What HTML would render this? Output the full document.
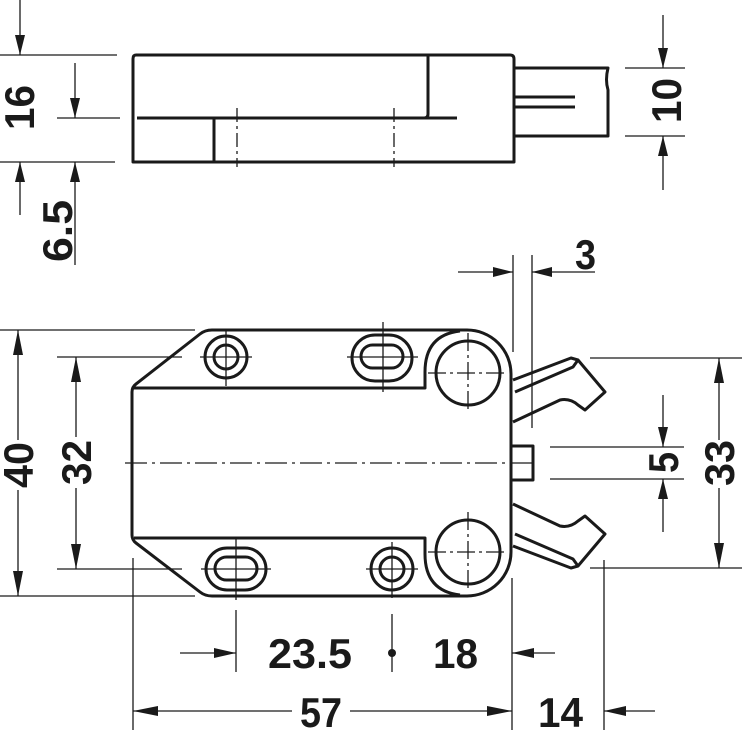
<!DOCTYPE html>
<html><head><meta charset="utf-8"><style>html,body{margin:0;padding:0;background:#fff}svg{display:block}</style></head><body>
<svg width="744" height="730" viewBox="0 0 744 730" xmlns="http://www.w3.org/2000/svg">
<g fill="none" stroke="#1a1a1a" stroke-width="3" stroke-linejoin="round">
<path d="M136,55 H510 Q514,55 514,59 V162 H133 V59 Q133,55 136,55 Z"/>
<path d="M137,118 H457"/>
<path d="M428,56 V114 Q428,118 424,118"/>
<path d="M214,118 V162"/>
<path d="M514,68 H608 Q605,80 608,90 V136 H514"/>
<path d="M514,97 H575 M514,107 H575"/>
</g>
<g stroke="#1a1a1a" stroke-width="1.3" stroke-dasharray="14,4,3,4">
<path d="M237,108 V167 M394,108 V167"/>
</g>
<g fill="none" stroke="#1a1a1a" stroke-width="3" stroke-linejoin="round">
<path d="M212,330 H467 A44,44 0 0 1 511,374 V552 A44,44 0 0 1 467,596 H212 Q205,596 200,592 L136,543 Q132,540 132,535 V392 Q132,387 136,384 L200,334 Q205,330 212,330 Z"/>
<path d="M134,388 H425 V372 Q425,335 460,331"/>
<path d="M134,538 H425 V554 Q425,591 460,595"/>
<circle cx="468" cy="373" r="32"/>
<circle cx="468" cy="552" r="32"/>
<circle cx="226" cy="357" r="21"/>
<circle cx="226" cy="357" r="12"/>
<circle cx="392" cy="569" r="21"/>
<circle cx="392" cy="569" r="12"/>
<rect x="352" y="335" width="60" height="46" rx="23"/>
<rect x="361" y="345" width="42" height="23" rx="11.5"/>
<rect x="206" y="548" width="60" height="42" rx="21"/>
<rect x="215" y="557" width="42" height="23" rx="11.5"/>
<rect x="511" y="446" width="22" height="34"/>
<path d="M513,380 L571,358 L578,360 L605,392 L585,410 L578,405 Q570,398 560,400 L513,422"/>
<path d="M515,392 L573,367 L578,360"/>
<path d="M513,546 L571,568 L578,566 L605,534 L585,516 L578,521 Q570,528 560,526 L513,504"/>
<path d="M515,534 L573,559 L578,566"/>
</g>
<g stroke="#1a1a1a" stroke-width="1.3" fill="none">
<path d="M125,463 H537" stroke-dasharray="22,5,3,5"/>
<path d="M468,333 V413 M428,373 H508 M468,512 V592 M428,552 H508" stroke-dasharray="18,4,3,4"/>
<path d="M226,330 V386 M200,357 H252 M392,542 V598 M366,569 H418 M383,322 V392 M347,357 H418 M236,538 V600 M201,569 H271"/>
<path d="M0,55 H117 M0,162 H115 M20,0 V55 M20,162 V215"/>
<path d="M57,118 H120 M75,63 V118 M75,162 V265"/>
<path d="M625,68 H685 M625,136 H685 M663,15 V68 M663,136 V190"/>
<path d="M513,255 V352 M532,255 V428 M458,272 H513 M532,272 H595"/>
<path d="M0,330 H195 M0,596 H195 M18,330 V440 M18,490 V596"/>
<path d="M57,357 H182 M57,569 H182 M76,357 V437 M76,488 V569"/>
<path d="M590,358 H742 M590,568 H742 M719,358 V440 M719,488 V568"/>
<path d="M550,447 H684 M550,479 H684 M663,395 V447 M663,479 V532"/>
<path d="M133,558 V730 M236,610 V672 M180,653 H236 M392,614 V672 M512,578 V730 M512,653 H555"/>
<path d="M133,711 H292 M350,711 H512 M604,560 V730 M604,711 H655"/>
</g>
<circle cx="392" cy="653" r="4" fill="#1a1a1a"/>
<g fill="#1a1a1a">
<polygon points="15,35 25,35 20,55"/><polygon points="15,182 25,182 20,162"/>
<polygon points="70,98 80,98 75,118"/><polygon points="70,182 80,182 75,162"/>
<polygon points="658,48 668,48 663,68"/><polygon points="658,156 668,156 663,136"/>
<polygon points="493,267 493,277 513,272"/><polygon points="552,267 552,277 532,272"/>
<polygon points="13,355 23,355 18,330"/><polygon points="13,571 23,571 18,596"/>
<polygon points="71,382 81,382 76,357"/><polygon points="71,544 81,544 76,569"/>
<polygon points="714,383 724,383 719,358"/><polygon points="714,543 724,543 719,568"/>
<polygon points="658,427 668,427 663,447"/><polygon points="658,499 668,499 663,479"/>
<polygon points="214,648 214,658 236,653"/><polygon points="534,648 534,658 512,653"/>
<polygon points="158,706 158,716 133,711"/><polygon points="487,706 487,716 512,711"/>
<polygon points="626,706 626,716 604,711"/>
</g>
<g font-family="Liberation Sans, sans-serif" font-weight="bold" font-size="42" fill="#1a1a1a">
<text x="268" y="668" textLength="84" lengthAdjust="spacingAndGlyphs">23.5</text>
<text x="433" y="668" textLength="45" lengthAdjust="spacingAndGlyphs">18</text>
<text x="300" y="727" textLength="42" lengthAdjust="spacingAndGlyphs">57</text>
<text x="538" y="727" textLength="45" lengthAdjust="spacingAndGlyphs">14</text>
<text x="575" y="269" textLength="21" lengthAdjust="spacingAndGlyphs">3</text>
<text transform="translate(34,130) rotate(-90)" textLength="45" lengthAdjust="spacingAndGlyphs">16</text>
<text transform="translate(72,262) rotate(-90)" textLength="62" lengthAdjust="spacingAndGlyphs">6.5</text>
<text transform="translate(681,123) rotate(-90)" textLength="45" lengthAdjust="spacingAndGlyphs">10</text>
<text transform="translate(33,488) rotate(-90)" textLength="46" lengthAdjust="spacingAndGlyphs">40</text>
<text transform="translate(91,485) rotate(-90)" textLength="45" lengthAdjust="spacingAndGlyphs">32</text>
<text transform="translate(678,473) rotate(-90)" textLength="21" lengthAdjust="spacingAndGlyphs">5</text>
<text transform="translate(734,486) rotate(-90)" textLength="46" lengthAdjust="spacingAndGlyphs">33</text>
</g>
</svg>
</body></html>
